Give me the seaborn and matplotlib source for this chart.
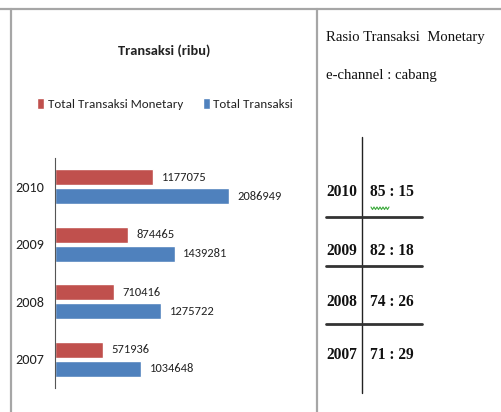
import matplotlib
matplotlib.use("Agg")
import matplotlib.pyplot as plt
from matplotlib import font_manager
from matplotlib.lines import Line2D
import numpy as np
import pandas as pd
import seaborn as sns

# ---------------- data ----------------
years = ["2010", "2009", "2008", "2007"]
total_monetary = [1177075, 874465, 710416, 571936]
total_transaksi = [2086949, 1439281, 1275722, 1034648]
series_names = ["Total Transaksi Monetary", "Total Transaksi"]
ratio_echannel = [85, 82, 74, 71]
ratio_cabang = [15, 18, 26, 29]
title_left = "Transaksi (ribu)"
title_right_1 = "Rasio Transaksi  Monetary"
title_right_2 = "e-channel : cabang"

# ---------------- fonts ----------------
sns.set_theme(style="white")
available = {f.name for f in font_manager.fontManager.ttflist}


def pick(cands):
    for c in cands:
        if c in available:
            return c
    return "DejaVu Sans"


SANS = pick(["Liberation Sans Narrow", "Carlito", "Liberation Sans", "DejaVu Sans"])
SERIF = pick(["Liberation Serif", "DejaVu Serif"])
plt.rcParams["font.family"] = [SANS, "DejaVu Sans"]

if SANS == "Liberation Sans Narrow":
    FS = dict(tick=11, val=9.2, leg=9.9, title=11)
elif SANS == "Carlito":
    FS = dict(tick=10.2, val=9.0, leg=9.4, title=10.4)
else:
    FS = dict(tick=8.5, val=7.5, leg=8, title=9)

W, H = 501, 412
fig = plt.figure(figsize=(W / 100, H / 100), dpi=100)
fig.patch.set_facecolor("white")


def fx(x):
    return x / W


def fy(y):
    return 1 - y / H


# ---------------- bar chart ----------------
df = pd.DataFrame({
    "year": years * 2,
    "value": total_monetary + total_transaksi,
    "series": [series_names[0]] * len(years) + [series_names[1]] * len(years),
})

ax_l, ax_r, ax_t, ax_b = 55, 300, 158, 388
ax = fig.add_axes([fx(ax_l), fy(ax_b), fx(ax_r) - fx(ax_l), (ax_b - ax_t) / H])
palette = {series_names[0]: "#C0504D", series_names[1]: "#4F81BD"}
sns.barplot(data=df, y="year", x="value", hue="series", hue_order=series_names,
            order=years, palette=palette, orient="h", width=0.66, gap=0.16,
            saturation=1, ax=ax, legend=True)

ax.set_xlim(0, (ax_r - ax_l) * 12000)
ax.set_xlabel("")
ax.set_ylabel("")
ax.set_xticks([])
for s in ["top", "right", "bottom"]:
    ax.spines[s].set_visible(False)
ax.spines["left"].set_color("#555555")
ax.spines["left"].set_linewidth(0.8)
ax.tick_params(axis="y", length=0, pad=8, labelsize=FS["tick"], labelcolor="#222222")
ax.set_facecolor("white")

for cont in ax.containers:
    ax.bar_label(cont, fmt="%d", padding=6, fontsize=FS["val"], color="#222222")

sns.move_legend(ax, "center", bbox_to_anchor=(fx(165), fy(104)),
                bbox_transform=fig.transFigure, ncol=2, frameon=False,
                handlelength=0.55, handleheight=0.9, handletextpad=0.25,
                columnspacing=1.5, fontsize=FS["leg"], title=None)
for t in ax.get_legend().get_texts():
    t.set_color("#222222")

fig.text(fx(164), fy(51), title_left, ha="center", va="center",
         fontsize=FS["title"], fontweight="bold", color="#222222")

# ---------------- frame lines ----------------
gray = "#A6A6A6"
fig.add_artist(Line2D([0, 1], [fy(9), fy(9)], color=gray, lw=1.6, transform=fig.transFigure))
fig.add_artist(Line2D([fx(11), fx(11)], [fy(9), 0], color=gray, lw=1.6, transform=fig.transFigure))
fig.add_artist(Line2D([fx(317), fx(317)], [fy(9), 0], color=gray, lw=1.6, transform=fig.transFigure))

# ---------------- right panel ----------------
fig.text(fx(326), fy(37), title_right_1, ha="left", va="center",
         fontsize=10.6, family=SERIF, color="#111111")
fig.text(fx(326), fy(75), title_right_2, ha="left", va="center",
         fontsize=10.6, family=SERIF, color="#111111")

row_y = [192, 251, 302, 355]
for yr, a, b, yy in zip(years, ratio_echannel, ratio_cabang, row_y):
    fig.text(fx(326), fy(yy), yr, ha="left", va="center", fontsize=11.2,
             fontweight="bold", family=SERIF, color="#111111")
    fig.text(fx(370), fy(yy), f"{a} : {b}", ha="left", va="center", fontsize=11.2,
             fontweight="bold", family=SERIF, color="#111111")

fig.add_artist(Line2D([fx(362), fx(362)], [fy(137), fy(393)], color="#222222", lw=1.0,
                      transform=fig.transFigure))
for yy in [217, 266, 324]:
    fig.add_artist(Line2D([fx(326), fx(422)], [fy(yy), fy(yy)], color="#333333", lw=2.0,
                          transform=fig.transFigure))

# green spell-check squiggle under "85"
sx = np.linspace(371, 389, 13)
sy = np.where(np.arange(13) % 2 == 0, 207, 209.5)
fig.add_artist(Line2D(fx(sx), fy(sy), color="#3BAA3B", lw=0.8, transform=fig.transFigure))

fig.savefig("out.png", dpi=100, facecolor="white")
